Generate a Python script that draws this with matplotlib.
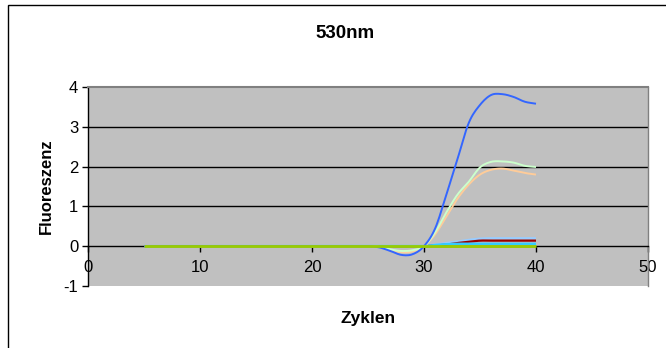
import matplotlib
matplotlib.use("Agg")
import matplotlib.pyplot as plt
from matplotlib.patches import Rectangle
import numpy as np

plt.rcParams['font.family'] = ['Liberation Sans', 'DejaVu Sans']
plt.rcParams['axes.unicode_minus'] = False

cycles = list(range(5, 41))
flat = [0.0] * 21  # cycles 5..25

blue = flat + [-0.03, -0.12, -0.22, -0.20, 0.0, 0.45, 1.30, 2.20, 3.10, 3.55, 3.80, 3.82, 3.75, 3.63, 3.58]
pale_green = flat + [-0.02, -0.08, -0.12, -0.10, 0.0, 0.35, 0.85, 1.30, 1.62, 1.98, 2.12, 2.13, 2.10, 2.02, 1.99]
orange = flat + [-0.02, -0.10, -0.15, -0.13, 0.0, 0.30, 0.75, 1.20, 1.55, 1.80, 1.92, 1.95, 1.90, 1.84, 1.80]
light_blue = flat + [0.0, 0.0, 0.0, 0.0, 0.0, 0.04, 0.08, 0.12, 0.16, 0.19, 0.20, 0.20, 0.20, 0.20, 0.20]
dark_red = flat + [0.0, 0.0, 0.0, 0.0, 0.0, 0.02, 0.04, 0.08, 0.11, 0.14, 0.14, 0.14, 0.14, 0.14, 0.14]
sky = flat + [0.0, 0.0, 0.0, 0.0, 0.0, 0.03, 0.05, 0.06, 0.06, 0.06, 0.06, 0.06, 0.06, 0.06, 0.06]
green = [0.0] * 36

series = [
    (light_blue, '#99CCFF', 1.6),
    (dark_red, '#990000', 1.6),
    (sky, '#33CCFF', 1.8),
    (orange, '#FFCC99', 1.4),
    (pale_green, '#CCFFCC', 1.4),
    (blue, '#3366FF', 1.4),
    (green, '#99CC00', 2.0),
]

x_ticks = [0, 10, 20, 30, 40, 50]
y_ticks = [-1, 0, 1, 2, 3, 4]


def smooth(xs, ys, n=8):
    xs = np.asarray(xs, float)
    ys = np.asarray(ys, float)
    px = np.concatenate([[2 * xs[0] - xs[1]], xs, [2 * xs[-1] - xs[-2]]])
    py = np.concatenate([[2 * ys[0] - ys[1]], ys, [2 * ys[-1] - ys[-2]]])
    ox, oy = [], []
    t = np.linspace(0, 1, n, endpoint=False)
    for i in range(1, len(px) - 2):
        f = lambda a0, a1, a2, a3: 0.5 * ((2 * a1) + (-a0 + a2) * t
                                          + (2 * a0 - 5 * a1 + 4 * a2 - a3) * t ** 2
                                          + (-a0 + 3 * a1 - 3 * a2 + a3) * t ** 3)
        ox.extend(f(px[i - 1], px[i], px[i + 1], px[i + 2]))
        oy.extend(f(py[i - 1], py[i], py[i + 1], py[i + 2]))
    ox.append(xs[-1])
    oy.append(ys[-1])
    return ox, oy


fig = plt.figure(figsize=(6.66, 3.48), dpi=100)
fig.patches.append(Rectangle((8 / 666, -0.1), 1.2, 1 - 5 / 348 + 0.1, transform=fig.transFigure,
                             fill=False, edgecolor='black', linewidth=1.0))

ax = fig.add_axes([88 / 666, 1 - 286 / 348, (648 - 88) / 666, (286 - 87) / 348])
ax.set_facecolor('#C0C0C0')
ax.set_xlim(0, 50)
ax.set_ylim(-1, 4)

for yv in [1, 2, 3]:
    ax.axhline(yv, color='black', linewidth=1.0, zorder=1)

for ys, col, lw in series:
    sx, sy = smooth(cycles, ys)
    ax.plot(sx, sy, color=col, linewidth=lw, zorder=3, solid_capstyle='butt')

ax.spines['bottom'].set_position(('data', 0))
ax.spines['bottom'].set_color('black')
ax.spines['left'].set_color('black')
ax.spines['top'].set_color('#808080')
ax.spines['right'].set_color('#808080')
for s in ax.spines.values():
    s.set_linewidth(1.0)
ax.spines['top'].set_linewidth(1.5)

ax.set_xticks(x_ticks)
ax.set_yticks(y_ticks)
ax.tick_params(axis='x', direction='out', length=4, width=1, labelsize=12, pad=6)
ax.tick_params(axis='y', direction='out', length=4, width=1, labelsize=12, pad=3)

fig.text(368 / 666, 1 - 318 / 348, 'Zyklen', ha='center', va='center', fontsize=12.5, fontweight='bold')
fig.text(46 / 666, 1 - 186 / 348, 'Fluoreszenz', ha='center', va='center', rotation=90,
         fontsize=12, fontweight='bold')
fig.text(345 / 666, 1 - 34 / 348, '530nm', ha='center', va='center', fontsize=13.5, fontweight='bold')

fig.savefig('out.png', dpi=100)
